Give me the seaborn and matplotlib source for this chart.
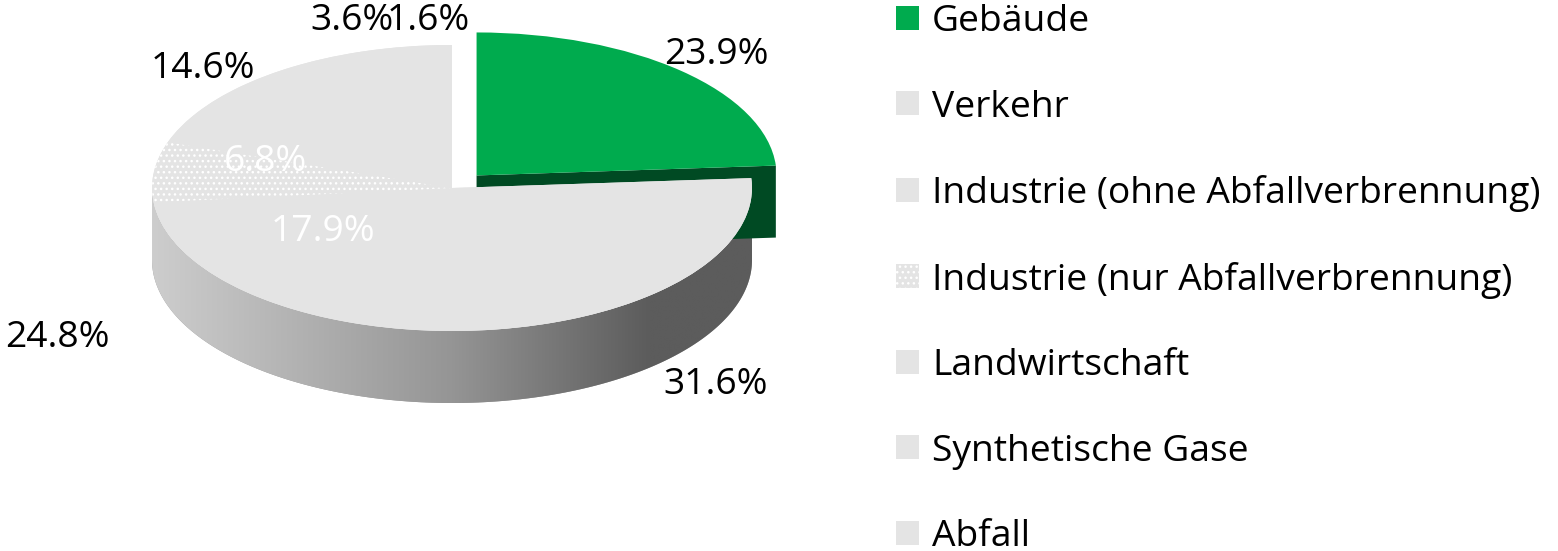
import numpy as np
import matplotlib
matplotlib.use("Agg")
import matplotlib.pyplot as plt
from matplotlib.colors import LinearSegmentedColormap
from matplotlib.patches import Polygon, Wedge
import seaborn as sns

# shares in percent, clockwise from 12 o'clock
categories = ["Gebäude", "Verkehr", "Industrie (ohne Abfallverbrennung)",
              "Industrie (nur Abfallverbrennung)", "Landwirtschaft",
              "Synthetische Gase", "Abfall"]
shares = [23.9, 31.6, 17.9, 6.8, 14.6, 3.6, 1.6]
# labels as printed on the chart (Industrie shown as a total outside)
outer_labels = ["23.9%", "31.6%", "24.8%", "", "14.6%", "3.6%", "1.6%"]
inner_labels = ["", "", "17.9%", "6.8%", "", "", ""]

GREEN = "#00ab4e"
GREEN_DARK = "#004a23"
GRAY_TOP = "#e4e4e4"
FS = 26.8

sns.set_theme(style="white")
plt.rcParams["font.family"] = ["Open Sans", "DejaVu Sans"]
plt.rcParams["text.color"] = "black"

W, H = 1558, 551
fig = plt.figure(figsize=(W / 100, H / 100), dpi=100)
fig.patch.set_facecolor("white")

# pie centre at (452, 188) px, radius 300 px wide, 143 px high
cx_px, cy_px, a_px, b_px = 452, 188, 300, 143
ax_w = 880
ax = fig.add_axes([0, 0, ax_w / W, 1])
depth = 72 / b_px

colors = [GREEN] + [GRAY_TOP] * (len(shares) - 1)
explode = [0.12] + [0] * (len(shares) - 1)
wedges, _ = ax.pie(shares, colors=colors, explode=explode, startangle=90,
                   counterclock=False, radius=1,
                   wedgeprops=dict(linewidth=0, edgecolor="none"))
for w in wedges:
    w.set_zorder(3)
wedges[0].set_zorder(4)
wedges[3].set_hatch("...")
wedges[3].set_edgecolor("white")
wedges[3].set_linewidth(0)

# plain underlay below the grey slices so no seams show between them
t_lo = min(w.theta1 for w in wedges[1:])
t_hi = max(w.theta2 for w in wedges[1:])
ax.add_patch(Wedge((0, 0), 1, t_lo, t_hi, facecolor=GRAY_TOP,
                   edgecolor="none", zorder=2.9))

# cylinder side (front half) with a left-to-right shading
t = np.linspace(np.pi, 2 * np.pi, 200)
top = np.column_stack([np.cos(t), np.sin(t)])
bot = np.column_stack([np.cos(t[::-1]), np.sin(t[::-1]) - depth])
side = Polygon(np.vstack([top, bot]), closed=True, facecolor="#999999",
               edgecolor="none", zorder=1)
ax.add_patch(side)
cmap = LinearSegmentedColormap.from_list(
    "side", [(0, "#cdcdcd"), (0.5, "#959595"), (0.83, "#5c5c5c"), (1, "#5c5c5c")])
grad = np.linspace(0, 1, 256).reshape(1, -1)
im = ax.imshow(grad, cmap=cmap, extent=[-1, 1, -1 - depth, 0], aspect="auto",
               zorder=1.5, interpolation="bilinear")
im.set_clip_path(side)

# radial face of the exploded slice
g = wedges[0]
gx, gy = g.center
th = np.deg2rad(g.theta1)
ex, ey = gx + g.r * np.cos(th), gy + g.r * np.sin(th)
face = Polygon([(gx, gy), (ex, ey), (ex, ey - depth), (gx, gy - depth)],
               closed=True, facecolor=GREEN_DARK, edgecolor="none", zorder=2)
ax.add_patch(face)

# data label positions (data units of the pie axes)
outer_pos = [(0.88, 0.93), (0.88, -1.38), (-1.317, -1.05), None,
             (-0.83, 0.83), (-0.333, 1.17), (-0.08, 1.17)]
inner_pos = [None, None, (-0.43, -0.31), (-0.62, 0.18), None, None, None]
for lab, pos in zip(outer_labels, outer_pos):
    if lab:
        ax.text(pos[0], pos[1], lab, ha="center", va="center", fontsize=FS,
                color="black", zorder=6)
for lab, pos in zip(inner_labels, inner_pos):
    if lab:
        ax.text(pos[0], pos[1], lab, ha="center", va="center", fontsize=FS,
                color="white", zorder=6)

ax.set_aspect("auto")
ax.set_xlim(-cx_px / a_px, (ax_w - cx_px) / a_px)
ax.set_ylim((cy_px - H) / b_px, cy_px / b_px)
ax.axis("off")

leg = fig.legend(wedges, categories, loc="upper left",
                 bbox_to_anchor=(896 / W, 1 - 4 / H),
                 bbox_transform=fig.transFigure, frameon=False, fontsize=FS,
                 borderpad=0, borderaxespad=0, handlelength=0.62,
                 handleheight=0.62, handletextpad=0.35, labelspacing=1.33)

fig.savefig("out.png", dpi=100, facecolor="white")
